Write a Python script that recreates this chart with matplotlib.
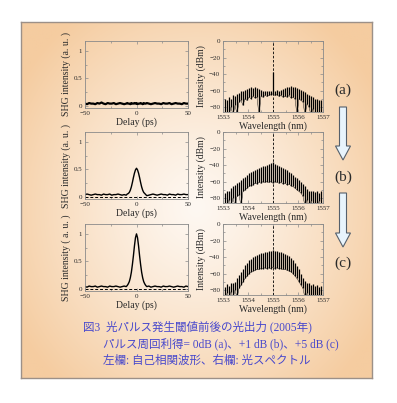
"""Fig.3: optical output below/above pulse threshold (autocorrelation + spectrum)."""

import numpy as np
import matplotlib
matplotlib.use('Agg')
import matplotlib.pyplot as plt
import matplotlib.patches as mpatches
from matplotlib.ticker import FixedLocator

# ---- data -----------------------------------------------------------------
panel_tags = ['(a)', '(b)', '(c)']

# autocorrelation delay grid (ps)
delay = np.r_[-50:-9:2, -9:10, 10:51:2]

acf_a = [0.04, 0.03, 0.05, 0.04, 0.04, 0.03, 0.05, 0.04, 0.06, 0.04, 0.03,
         0.05, 0.04, 0.04, 0.05, 0.03, 0.04, 0.05, 0.04, 0.03, 0.04,
         0.05, 0.04, 0.04, 0.03, 0.05, 0.04, 0.04, 0.05, 0.04, 0.05,
         0.03, 0.04, 0.04, 0.05, 0.04, 0.03, 0.05, 0.04, 0.04,
         0.05, 0.04, 0.03, 0.04, 0.05, 0.04, 0.04, 0.03, 0.05, 0.04, 0.04,
         0.05, 0.03, 0.04, 0.05, 0.04, 0.04, 0.03, 0.05, 0.04, 0.04]
acf_b = [0.04, 0.05, 0.04, 0.03, 0.04, 0.05, 0.04, 0.04, 0.03, 0.05, 0.04,
         0.04, 0.05, 0.03, 0.04, 0.04, 0.05, 0.04, 0.03, 0.04, 0.03,
         0.05, 0.06, 0.08, 0.12, 0.18, 0.26, 0.35, 0.43, 0.49, 0.52,
         0.49, 0.43, 0.35, 0.26, 0.18, 0.12, 0.08, 0.06, 0.04,
         0.02, 0.03, 0.04, 0.05, 0.04, 0.03, 0.04, 0.05, 0.04, 0.04, 0.03,
         0.05, 0.04, 0.04, 0.03, 0.05, 0.04, 0.04, 0.05, 0.04, 0.04]
acf_c = [0.04, 0.03, 0.05, 0.04, 0.04, 0.05, 0.03, 0.04, 0.05, 0.04, 0.04,
         0.03, 0.05, 0.04, 0.04, 0.05, 0.04, 0.03, 0.04, 0.05, 0.04,
         0.06, 0.09, 0.13, 0.20, 0.30, 0.44, 0.60, 0.78, 0.93, 1.00,
         0.93, 0.78, 0.60, 0.44, 0.30, 0.20, 0.13, 0.09, 0.06,
         0.04, 0.05, 0.03, 0.04, 0.05, 0.04, 0.04, 0.03, 0.05, 0.04, 0.04,
         0.05, 0.04, 0.03, 0.04, 0.05, 0.04, 0.04, 0.03, 0.05, 0.04]
acf_series = [acf_a, acf_b, acf_c]
show_zero_line = [False, True, True]

# longitudinal mode grid (nm): each mode drawn as a line from its floor to its peak
mode_start, mode_step, n_modes = 1553.08, 0.08, 49
modes = mode_start + mode_step * np.arange(n_modes)

spec_top_a = [-70, -72, -68, -70, -66, -67, -64, -63, -61, -60, -59, -58,
              -57, -56, -57, -56, -57, -58, -59, -60, -60, -61, -61, -60,
              -37, -60, -59, -60, -59, -58, -57, -56, -56, -55, -56, -56,
              -57, -58, -59, -61, -62, -64, -65, -67, -68, -70, -70, -72, -71]
spec_low_a = [-90, -88, -90, -80, -90, -78, -88, -74, -72, -78, -70, -72,
              -68, -70, -67, -69, -68, -90, -67, -68, -66, -67, -66, -65,
              -64, -66, -65, -67, -66, -68, -67, -68, -66, -69, -68, -70,
              -90, -70, -72, -74, -90, -76, -80, -90, -82, -90, -86, -90, -90]
spec_top_b = [-74, -71, -72, -68, -66, -64, -62, -60, -58, -56, -54, -52,
              -50, -49, -47, -46, -45, -44, -42, -41, -41, -40, -39, -38,
              -36, -39, -40, -41, -42, -43, -45, -46, -48, -50, -52, -54,
              -56, -58, -61, -63, -66, -69, -71, -72, -71, -73, -72, -74, -72]
spec_low_b = [-90, -90, -82, -90, -80, -90, -78, -76, -90, -72, -70, -68,
              -66, -65, -64, -62, -63, -61, -62, -60, -61, -60, -61, -60,
              -62, -60, -61, -62, -61, -63, -62, -64, -63, -65, -66, -68,
              -70, -72, -74, -78, -90, -82, -90, -84, -90, -86, -90, -84, -90]
spec_top_c = [-76, -73, -75, -72, -72, -70, -66, -62, -58, -54, -50, -47,
              -44, -42, -40, -39, -37, -36, -35, -35, -34, -34, -33, -33,
              -31, -33, -33, -34, -34, -35, -36, -37, -39, -41, -44, -47,
              -51, -55, -60, -65, -69, -72, -72, -74, -73, -75, -74, -76, -75]
spec_low_c = [-90, -84, -90, -82, -90, -80, -90, -78, -74, -70, -66, -63,
              -60, -58, -57, -56, -55, -55, -54, -54, -53, -54, -53, -54,
              -52, -54, -53, -54, -54, -55, -55, -56, -57, -58, -60, -63,
              -66, -70, -74, -78, -90, -84, -90, -86, -90, -88, -90, -86, -90]
spec_series = [(spec_top_a, spec_low_a), (spec_top_b, spec_low_b),
               (spec_top_c, spec_low_c)]
center_wl = 1555.0

caption_lines = [
    '図3  光パルス発生閾値前後の光出力 (2005年)',
    'パルス周回利得= 0dB (a)、+1 dB (b)、+5 dB (c)',
    '左欄: 自己相関波形、右欄: 光スペクトル',
]
acf_ylabels = ['SHG intensity (a. u. )', 'SHG intensity (a. u. )',
               'SHG intensity ( a. u. )']

# ---- figure ---------------------------------------------------------------
W, H = 397, 403
SERIF = 'Liberation Serif'
CAPTION_FONT = [SERIF, 'Noto Sans CJK JP']
CAPTION_COLOR = '#4848cc'
TEXT_COLOR = '#2a2a2a'

fig = plt.figure(figsize=(W / 100, H / 100), dpi=100)
fig.patch.set_facecolor('white')


def px_box(x0, y0, x1, y1):
    """Pixel box (top-left origin) -> figure fraction rect."""
    return [x0 / W, 1 - y1 / H, (x1 - x0) / W, (y1 - y0) / H]


# gradient panel background
PANEL = (21, 22, 372, 378)
bg = fig.add_axes(px_box(*PANEL), zorder=0)
gx, gy = np.meshgrid(np.linspace(0, 1, 200), np.linspace(0, 1, 200))
r = np.clip(np.hypot((gx - 0.5) / 0.6, (gy - 0.52) / 0.66), 0, 1) ** 1.2
c_mid = np.array([254, 248, 242]) / 255
c_edge = np.array([245, 204, 160]) / 255
bg.imshow(c_mid + (c_edge - c_mid) * r[..., None], aspect='auto',
          interpolation='bilinear')
bg.set_xticks([])
bg.set_yticks([])
for sp in bg.spines.values():
    sp.set_color('#9c9088')
    sp.set_linewidth(1.0)

# overlay in pixel coords for labels, arrows and caption
ov = fig.add_axes([0, 0, 1, 1], zorder=5)
ov.set_xlim(0, W)
ov.set_ylim(H, 0)
ov.axis('off')
ov.patch.set_alpha(0)

row_top = [41, 132, 224]
acf_h, spec_h = 67, 71
tag_y = [90, 177, 263]


def style_axes(ax):
    ax.patch.set_alpha(0)
    for sp in ax.spines.values():
        sp.set_color('#8a8a8a')
        sp.set_linewidth(0.6)
    ax.tick_params(which='both', direction='in', top=True, right=True,
                   color='#8a8a8a', labelsize=5, pad=2, width=0.5,
                   labelcolor=TEXT_COLOR)
    ax.tick_params(which='major', length=2.5)
    ax.tick_params(which='minor', length=1.5)
    for lab in ax.get_xticklabels() + ax.get_yticklabels():
        lab.set_family(SERIF)


for i in range(3):
    top = row_top[i]

    # autocorrelation
    ax = fig.add_axes(px_box(85, top, 188, top + acf_h), zorder=2)
    if show_zero_line[i]:
        ax.axhline(0, color='black', lw=0.7, ls=(0, (3, 2)))
    ax.plot(delay, acf_series[i], color='black', lw=1.0 if i else 1.6)
    ax.set_xlim(-50, 50)
    ax.set_ylim(-0.04, 1.18)
    ax.set_xticks([-50, 0, 50])
    ax.set_yticks([0, 0.5, 1])
    ax.set_yticklabels(['0', '0.5', '1'])
    ax.xaxis.set_minor_locator(FixedLocator([-25, 25]))
    ax.yaxis.set_minor_locator(FixedLocator([0.25, 0.75]))
    ax.set_xlabel('Delay (ps)', family=SERIF, fontsize=7, labelpad=1,
                  color=TEXT_COLOR)
    ax.set_ylabel(acf_ylabels[i], family=SERIF, fontsize=7, labelpad=2,
                  color=TEXT_COLOR)
    style_axes(ax)

    # optical spectrum: vertical line per mode from floor to peak
    top_vals, low_vals = spec_series[i]
    ax = fig.add_axes(px_box(223, top, 323, top + spec_h), zorder=2)
    ax.vlines(modes, low_vals, top_vals, color='black', lw=0.9)
    ax.plot(modes, low_vals, color='black', lw=0.3)
    ax.axvline(center_wl, color='black', lw=0.6, ls=(0, (3, 2)))
    ax.set_xlim(1553, 1557)
    ax.set_ylim(-86, 0)
    ax.set_xticks([1553, 1554, 1555, 1556, 1557])
    ax.set_yticks([0, -20, -40, -60, -80])
    ax.xaxis.set_minor_locator(FixedLocator([1553.5, 1554.5, 1555.5, 1556.5]))
    ax.yaxis.set_minor_locator(FixedLocator([-10, -30, -50, -70]))
    ax.set_xlabel('Wavelength (nm)', family=SERIF, fontsize=7, labelpad=1,
                  color=TEXT_COLOR)
    ax.set_ylabel('Intensity (dBm)', family=SERIF, fontsize=7, labelpad=2,
                  color=TEXT_COLOR)
    style_axes(ax)

    ov.text(343, tag_y[i], panel_tags[i], family=SERIF, fontsize=11,
            ha='center', va='center', color=TEXT_COLOR)

# hollow down arrows between the tags
for y0, y1 in [(107, 160), (193, 247)]:
    ov.add_patch(mpatches.FancyArrow(343, y0, 0, y1 - y0, width=7,
                                     head_width=15, head_length=14,
                                     length_includes_head=True,
                                     facecolor='#e8f4fc', edgecolor='#55606c',
                                     lw=0.8))

# caption
for (x, y), line in zip([(83, 327), (103, 344), (103, 361)], caption_lines):
    ov.text(x, y, line, family=CAPTION_FONT, fontsize=8.3,
            color=CAPTION_COLOR, ha='left', va='center')

fig.savefig('out.png', dpi=100)
